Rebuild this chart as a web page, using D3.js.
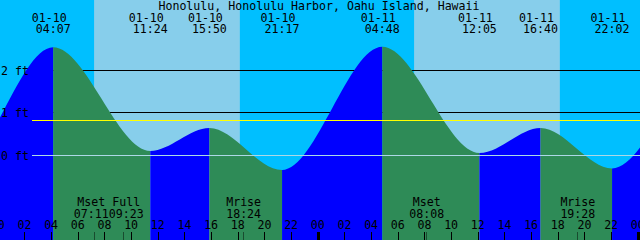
<!DOCTYPE html>
<html>
<head>
<meta charset="utf-8">
<script src="https://cdn.jsdelivr.net/npm/d3@7"></script>
<style>
  html, body { margin: 0; padding: 0; background: #fff; }
  svg { display: block; }
  text { font-family: "DejaVu Sans Mono", monospace; font-size: 11.6px; fill: #000; }
</style>
</head>
<body>
<div id="chart"></div>
<script>
const title = "Honolulu, Honolulu Harbor, Oahu Island, Hawaii";

// tide extremes (first two and last two lie outside the window)
const tideTimes = ["01-09 15:00", "01-09 20:45", "01-10 04:07", "01-10 11:24", "01-10 15:50", "01-10 21:17",
                   "01-11 04:48", "01-11 12:05", "01-11 16:40", "01-11 22:02", "01-12 05:50", "01-12 12:50"];
const tideHeights = [0.65, -0.40, 2.54, 0.10, 0.64, -0.35, 2.55, 0.05, 0.64, -0.31, 2.45, 0.02];

const sunrises = ["01-10 07:11", "01-11 07:11"];
const sunsets = ["01-10 18:07", "01-11 18:07"];

const moonTimes = ["01-10 07:11", "01-10 09:23", "01-10 18:24", "01-11 08:08", "01-11 19:28"];
const moonNames = ["Mset", "Full", "Mrise", "Mset", "Mrise"];

const levelTicks = [0, 1, 2];
const meanLevel = 0.82;

const width = 640, height = 240;

// hours since 01-10 00:00
const toHours = s => {
    const [md, hm] = s.split(" ");
    const day = +md.split("-")[1];
    const [h, m] = hm.split(":").map(Number);
    return (day - 10) * 24 + h + m / 60;
};

const x = d3.scaleLinear().domain([0, 48]).range([-1.7, 638.3]);
const y = d3.scaleLinear().domain([0, 2]).range([155.2, 70.2]);

const svg = d3.select("#chart").append("svg")
    .attr("width", width)
    .attr("height", height);

// sky: night then day bands
svg.append("rect").attr("width", width).attr("height", height).attr("fill", "#00bfff");
svg.selectAll(".day")
    .data(d3.zip(sunrises, sunsets))
    .join("rect")
    .attr("class", "day")
    .attr("x", d => x(toHours(d[0])))
    .attr("width", d => x(toHours(d[1])) - x(toHours(d[0])))
    .attr("height", height)
    .attr("fill", "#87ceeb");

// black level lines sit behind the water
svg.selectAll(".level")
    .data(levelTicks.filter(d => d > 0))
    .join("line")
    .attr("x1", 32).attr("x2", width)
    .attr("y1", d => Math.floor(y(d)) + 0.5)
    .attr("y2", d => Math.floor(y(d)) + 0.5)
    .attr("stroke", "#000");

// water
const tide = tideTimes.map((t, i) => ({ t: toHours(t), h: tideHeights[i] }));
const area = d3.area()
    .x(d => x(d.t))
    .y0(height)
    .y1(d => y(d.h))
    .curve(d3.curveMonotoneX);

svg.append("clipPath").attr("id", "water")
    .append("path").attr("d", area(tide));

const water = svg.append("g").attr("clip-path", "url(#water)");
water.selectAll("rect")
    .data(d3.pairs(tide))
    .join("rect")
    .attr("x", d => x(d[0].t))
    .attr("width", d => x(d[1].t) - x(d[0].t))
    .attr("height", height)
    .attr("fill", d => d[1].h > d[0].h ? "#0000ff" : "#2e8b57"); // flood blue, ebb green

// mean level and datum
svg.append("line")
    .attr("x1", 32).attr("x2", width)
    .attr("y1", Math.floor(y(meanLevel)) + 0.5)
    .attr("y2", Math.floor(y(meanLevel)) + 0.5)
    .attr("stroke", "#ffff00");
svg.append("line")
    .attr("x1", 32).attr("x2", width)
    .attr("y1", Math.floor(y(0)) + 0.5)
    .attr("y2", Math.floor(y(0)) + 0.5)
    .attr("stroke", "#add8e6");

// level labels
svg.selectAll(".ylab")
    .data(levelTicks)
    .join("text")
    .attr("x", 1)
    .attr("y", d => y(d) + 4.3)
    .text(d => d + " ft");

// title
svg.append("text")
    .attr("x", 319).attr("y", 10)
    .attr("text-anchor", "middle")
    .text(title);

// extreme labels
const shown = tideTimes.slice(2, -2);
const topLabels = svg.append("g").attr("text-anchor", "middle");
topLabels.selectAll(".date")
    .data(shown)
    .join("text")
    .attr("x", d => x(toHours(d)) - 4)
    .attr("y", 21.6)
    .text(d => d.split(" ")[0]);
topLabels.selectAll(".time")
    .data(shown)
    .join("text")
    .attr("x", d => x(toHours(d)))
    .attr("y", 33.3)
    .text(d => d.split(" ")[1]);

// moon labels, pushed apart where they collide
const moon = moonTimes.map((t, i) => ({ t: toHours(t), name: moonNames[i], time: t.split(" ")[1] }));
moon.forEach(d => d.cx = x(d.t));
for (let i = 1; i < moon.length; i++) {
    const gap = moon[i].cx - moon[i - 1].cx;
    if (gap < 35) {
        const push = (35 - gap) / 2;
        moon[i - 1].cx -= push;
        moon[i].cx += push;
    }
}
const bottomLabels = svg.append("g").attr("text-anchor", "middle");
bottomLabels.selectAll(".mname")
    .data(moon)
    .join("text")
    .attr("x", d => d.cx)
    .attr("y", 206)
    .text(d => d.name);
bottomLabels.selectAll(".mtime")
    .data(moon)
    .join("text")
    .attr("x", d => d.cx)
    .attr("y", 217.6)
    .text(d => d.time);

// hour ticks and labels
const hours = d3.range(0, 49, 2);
bottomLabels.selectAll(".hlab")
    .data(hours)
    .join("text")
    .attr("x", d => x(d) - 0.5)
    .attr("y", 229.4)
    .text(d => d3.format("02")(d % 24));

svg.selectAll(".htick")
    .data(hours)
    .join("line")
    .attr("x1", d => Math.round(x(d) - 0.5) + 0.5)
    .attr("x2", d => Math.round(x(d) - 0.5) + 0.5)
    .attr("y1", 232).attr("y2", height)
    .attr("stroke", "#000")
    .attr("stroke-width", d => d % 24 === 0 ? 3 : 1);

svg.selectAll(".mtick")
    .data(moon)
    .join("line")
    .attr("x1", d => Math.round(x(d.t) - 0.5) + 0.5)
    .attr("x2", d => Math.round(x(d.t) - 0.5) + 0.5)
    .attr("y1", 232).attr("y2", height)
    .attr("stroke", "#000")
    .attr("stroke-opacity", 0.45);
</script>
</body>
</html>
